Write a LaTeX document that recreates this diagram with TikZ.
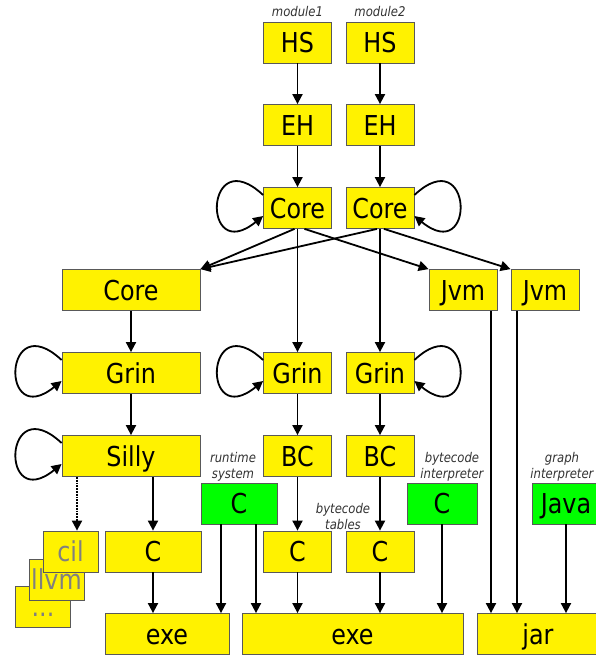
\documentclass[tikz,border=0pt]{standalone}
\usepackage{fontspec}
\setmainfont{DejaVu Sans}[FakeStretch=0.87]
\usetikzlibrary{arrows.meta}

\newcommand{\boxfont}{\fontsize{27.4}{30}\selectfont}
\newcommand{\labfont}{\fontsize{13.4}{16}\selectfont\itshape}

\tikzset{
  box/.style={draw=black!65, line width=0.8pt, fill=yellow, minimum height=41pt,
    inner sep=0pt, text height=20pt, text depth=0pt, font=\boxfont},
  gbox/.style={box, fill=green},
  ghost/.style={box, text=black!50},
  lbl/.style={font=\labfont, align=center, inner sep=0pt, text=black!80}
}

\begin{document}
\begin{tikzpicture}[x=1pt, y=1pt, line width=1.8pt, >={Triangle[length=10pt,width=10pt]}]
\useasboundingbox (0,0) rectangle (596,-657);
% front end, per module
\node[lbl] (m1) at (297.5,-11) {module1};
\node[lbl] (m2) at (380,-11) {module2};
\node[box, minimum width=68pt] (hs1) at (297.5,-42.5) {HS};
\node[box, minimum width=68pt] (hs2) at (380,-42.5) {HS};
\node[box, minimum width=68pt] (eh1) at (297.5,-125) {EH};
\node[box, minimum width=68pt] (eh2) at (380,-125) {EH};
\node[box, minimum width=68pt] (core1) at (297.5,-208) {Core};
\node[box, minimum width=68pt] (core2) at (380,-208) {Core};
% back ends
\node[box, minimum width=138pt] (core) at (131,-290) {Core};
\node[box, minimum width=68pt] (jvm1) at (463,-290) {Jvm};
\node[box, minimum width=68pt] (jvm2) at (545,-290) {Jvm};
\node[box, minimum width=138pt] (grin) at (131,-373) {Grin};
\node[box, minimum width=68pt] (grin1) at (297.5,-373) {Grin};
\node[box, minimum width=68pt] (grin2) at (380,-373) {Grin};
\node[box, minimum width=138pt] (silly) at (131,-456) {Silly};
\node[box, minimum width=68pt] (bc1) at (297.5,-456) {BC};
\node[box, minimum width=68pt] (bc2) at (380,-456) {BC};
% runtime parts
\node[gbox, minimum width=76pt] (rts) at (239,-503.5) {C};
\node[gbox, minimum width=70pt] (bci) at (442,-503.5) {C};
\node[gbox, minimum width=68pt] (java) at (566,-503.5) {Java};
\node[lbl] (rtsl) at (233,-467) {runtime\\system};
\node[lbl] (bctl) at (343,-516) {bytecode\\tables};
\node[lbl] (bcil) at (452,-467) {bytecode\\interpreter};
\node[lbl] (javal) at (562,-467) {graph\\interpreter};
% generated code
\node[ghost, minimum width=55pt] (etc) at (43,-606.5) {...};
\node[ghost, minimum width=55pt] (llvm) at (56.5,-579.5) {llvm};
\node[ghost, minimum width=55pt] (cil) at (70.5,-551.5) {cil};
\node[box, minimum width=96pt] (cS) at (153,-551.5) {C};
\node[box, minimum width=68pt] (c1) at (297.5,-551.5) {C};
\node[box, minimum width=68pt] (c2) at (380,-551.5) {C};
\node[box, minimum width=124pt] (exe1) at (167,-634) {exe};
\node[box, minimum width=221pt] (exe2) at (352.5,-634) {exe};
\node[box, minimum width=122pt] (jar) at (538,-634) {jar};

\draw[->] (hs1) -- (eh1);
\draw[->] (hs2) -- (eh2);
\draw[->] (eh1) -- (core1);
\draw[->] (eh2) -- (core2);
\draw[->] ([xshift=-3pt]core1.south) -- (core.north east);
\draw[->] ([xshift=-3pt]core2.south) -- (core.north east);
\draw[->] ([xshift=7pt]core1.south) -- (jvm1.north west);
\draw[->] ([xshift=4pt]core2.south) -- (jvm2.north west);
\draw[->] (core1) -- (grin1);
\draw[->] (core2) -- (grin2);
\draw[->] (core) -- (grin);
\draw[->] (grin) -- (silly);
\draw[->] (grin1) -- (bc1);
\draw[->] (grin2) -- (bc2);
\draw[->] (bc1) -- (c1);
\draw[->] (bc2) -- (c2);
\draw[->] (silly.south -| cS) -- (cS);
\draw[->, densely dotted] ([xshift=6.5pt]cil.north |- silly.south) -- ([xshift=6.5pt]cil.north);
\draw[->] (cS) -- (cS |- exe1.north);
\draw[->] ([xshift=-18pt]rts.south) -- ([xshift=-18pt]rts.south |- exe1.north);
\draw[->] ([xshift=17pt]rts.south) -- ([xshift=17pt]rts.south |- exe2.north);
\draw[->] (c1) -- (c1 |- exe2.north);
\draw[->] (c2) -- (c2 |- exe2.north);
\draw[->] (bci) -- (bci |- exe2.north);
\draw[->] ([xshift=28pt]jvm1.south) -- ([xshift=28pt]jvm1.south |- jar.north);
\draw[->] ([xshift=-28pt]jvm2.south) -- ([xshift=-28pt]jvm2.south |- jar.north);
\draw[->] (java) -- (java |- jar.north);
% self loops
\draw[->] ([yshift=13pt]core1.west) .. controls +(137:80) and +(219:80) .. ([yshift=-8pt]core1.west);
\draw[->] ([yshift=13pt]core2.east) .. controls +(43:80) and +(-39:80) .. ([yshift=-8pt]core2.east);
\draw[->] ([yshift=13pt]grin.west) .. controls +(137:80) and +(219:80) .. ([yshift=-8pt]grin.west);
\draw[->] ([yshift=13pt]silly.west) .. controls +(137:80) and +(219:80) .. ([yshift=-8pt]silly.west);
\draw[->] ([yshift=13pt]grin1.west) .. controls +(137:80) and +(219:80) .. ([yshift=-8pt]grin1.west);
\draw[->] ([yshift=13pt]grin2.east) .. controls +(43:80) and +(-39:80) .. ([yshift=-8pt]grin2.east);
\end{tikzpicture}
\end{document}
